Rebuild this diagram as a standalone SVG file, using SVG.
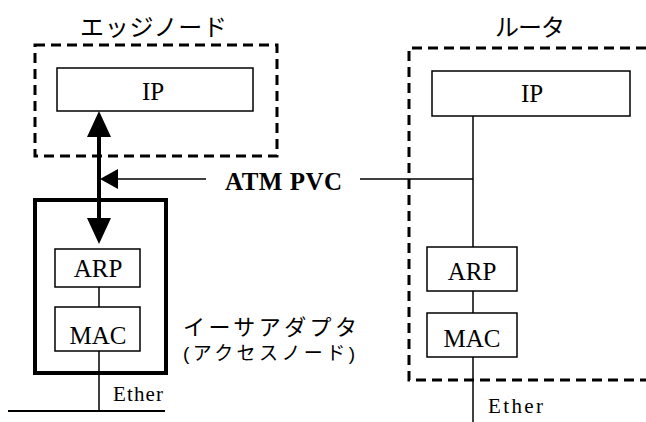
<svg xmlns="http://www.w3.org/2000/svg" width="646" height="422" viewBox="0 0 646 422">
  <style>
    .bg { fill: #ffffff; }
    .dash { fill: none; stroke: #000; stroke-width: 3; stroke-dasharray: 10 6; }
    .box { fill: #ffffff; stroke: #000; stroke-width: 1.5; }
    .thick { fill: none; stroke: #000; stroke-width: 4; }
    .line { fill: none; stroke: #000; stroke-width: 1.5; }
    .bold { fill: none; stroke: #000; stroke-width: 4; }
    .head { fill: #000; }
    .lbl { font-family: "Liberation Serif", "Times New Roman", serif; font-size: 25px; fill: #000; text-anchor: middle; }
    .eth { font-family: "Liberation Serif", "Times New Roman", serif; font-size: 21px; fill: #000; }
    .atm { font-family: "Liberation Serif", "Times New Roman", serif; font-size: 25px; font-weight: bold; fill: #000; }
    .jp { font-family: "Liberation Sans", "Noto Sans CJK JP", sans-serif; font-size: 24px; fill: #000; }
  </style>
  <rect class="bg" x="0" y="0" width="646" height="422"/>

  <!-- edge node -->
  <g id="edge-node">
    <rect class="dash" x="35" y="45" width="242" height="111"/>
    <text class="jp" x="80" y="36" textLength="147">エッジノード</text>
  </g>
  <g id="edge-ip">
    <rect class="box" x="57" y="68" width="196" height="43"/>
    <text class="lbl" x="153" y="100">IP</text>
  </g>

  <!-- ethernet adapter (access node) -->
  <g id="adapter">
    <rect class="thick" x="35" y="200" width="131" height="173"/>
    <text class="jp" x="183" y="335" style="font-size:22px" textLength="174">イーサアダプタ</text>
    <text class="jp" x="183" y="360" style="font-size:19px" textLength="172">(アクセスノード)</text>
  </g>
  <g id="adapter-arp">
    <rect class="box" x="55" y="249" width="85" height="38"/>
    <text class="lbl" x="98" y="277">ARP</text>
  </g>
  <g id="adapter-mac">
    <rect class="box" x="55" y="307" width="85" height="44"/>
    <text class="lbl" x="98" y="344">MAC</text>
  </g>

  <!-- router -->
  <g id="router">
    <path class="dash" d="M646 48 H409 V380 H646"/>
    <text class="jp" x="495" y="36" textLength="70">ルータ</text>
  </g>
  <g id="router-ip">
    <rect class="box" x="432" y="71" width="198" height="45"/>
    <text class="lbl" x="532" y="102">IP</text>
  </g>
  <g id="router-arp">
    <rect class="box" x="427" y="247" width="90" height="44"/>
    <text class="lbl" x="472" y="280">ARP</text>
  </g>
  <g id="router-mac">
    <rect class="box" x="427" y="313" width="90" height="44"/>
    <text class="lbl" x="472" y="347">MAC</text>
  </g>

  <!-- connectors -->
  <g id="connectors">
    <!-- ATM PVC between edge IP and adapter -->
    <line class="bold" x1="99" y1="134" x2="99" y2="220"/>
    <polygon class="head" points="99,111 87,137 111,137"/>
    <polygon class="head" points="99,244 87,218 111,218"/>
    <line class="line" x1="116" y1="179" x2="206" y2="179"/>
    <polygon class="head" points="100,179 118,169 118,189"/>
    <text class="atm" x="225" y="190" textLength="117">ATM PVC</text>
    <line class="line" x1="360" y1="179" x2="473" y2="179"/>

    <!-- adapter stack -->
    <line class="line" x1="99" y1="287" x2="99" y2="307"/>
    <line class="line" x1="99" y1="351" x2="99" y2="411"/>
    <line x1="8" y1="411" x2="165" y2="411" stroke="#000" stroke-width="2"/>
    <text class="eth" x="113" y="401" textLength="50">Ether</text>

    <!-- router stack -->
    <line class="line" x1="473" y1="116" x2="473" y2="247"/>
    <line class="line" x1="473" y1="291" x2="473" y2="313"/>
    <line class="line" x1="473" y1="357" x2="473" y2="422"/>
    <text class="eth" x="488" y="413" textLength="55">Ether</text>
  </g>
</svg>
